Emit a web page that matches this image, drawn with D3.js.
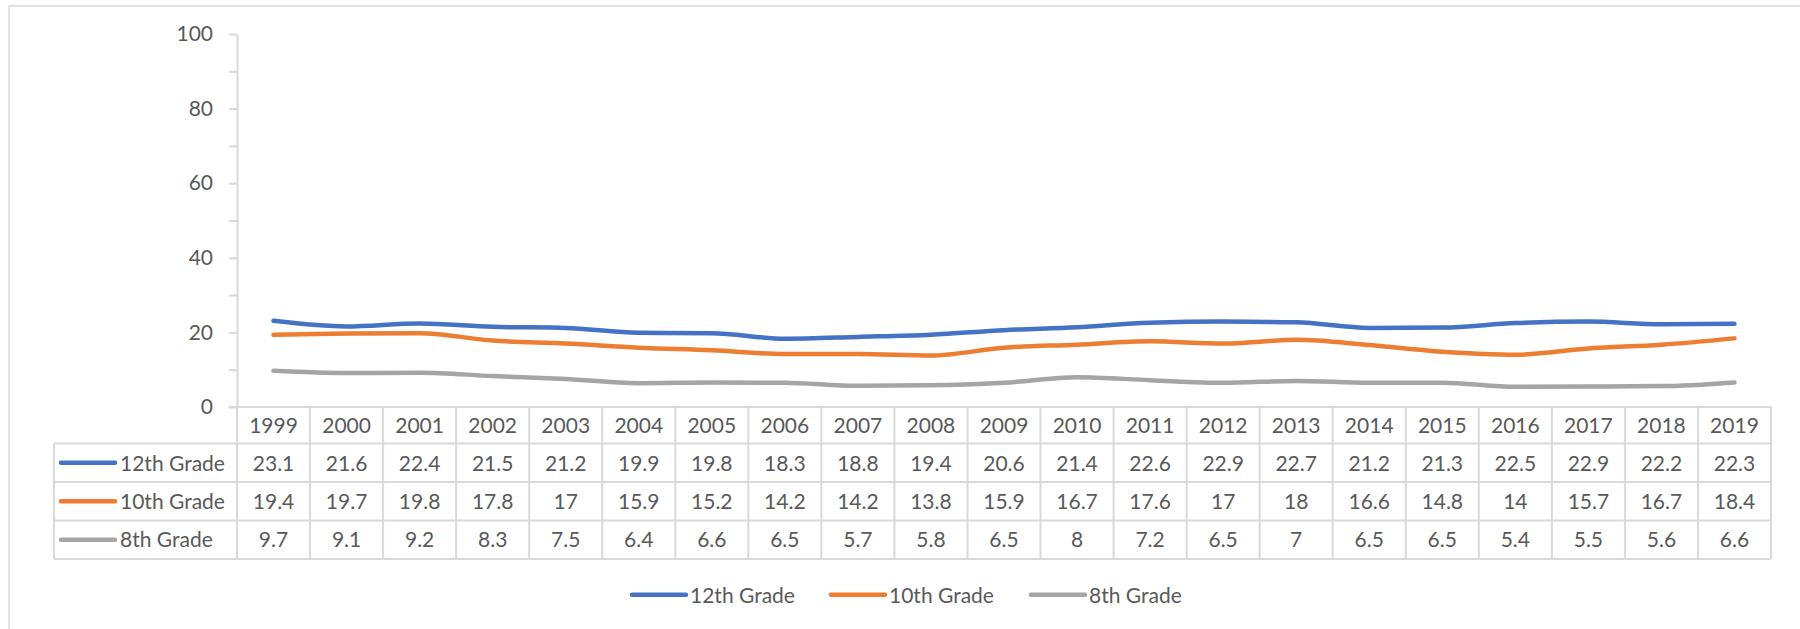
<!DOCTYPE html>
<html>
<head>
<meta charset="utf-8">
<script src="https://cdn.jsdelivr.net/npm/d3@7/dist/d3.min.js"></script>
<style>
  html, body { margin: 0; padding: 0; background: #fff; }
  svg { display: block; }
  text { font-family: Lato, "Open Sans", sans-serif; fill: #595959; }
</style>
</head>
<body>
<svg id="chart" width="1800" height="629"></svg>
<script>
const years = ["1999","2000","2001","2002","2003","2004","2005","2006","2007","2008","2009","2010","2011","2012","2013","2014","2015","2016","2017","2018","2019"];
const grade12 = [23.1,21.6,22.4,21.5,21.2,19.9,19.8,18.3,18.8,19.4,20.6,21.4,22.6,22.9,22.7,21.2,21.3,22.5,22.9,22.2,22.3];
const grade10 = [19.4,19.7,19.8,17.8,17,15.9,15.2,14.2,14.2,13.8,15.9,16.7,17.6,17,18,16.6,14.8,14,15.7,16.7,18.4];
const grade8  = [9.7,9.1,9.2,8.3,7.5,6.4,6.6,6.5,5.7,5.8,6.5,8,7.2,6.5,7,6.5,6.5,5.4,5.5,5.6,6.6];
const seriesNames = ["12th Grade","10th Grade","8th Grade"];
const seriesColors = ["#4472C4","#ED7D31","#A5A5A5"];
const yTicks = [0,10,20,30,40,50,60,70,80,90,100];

const series = [grade12, grade10, grade8].map((v,i)=>({name:seriesNames[i], color:seriesColors[i], values:v}));

const svg = d3.select("#chart");
const border = "#D9D9D9";

// outer frame
svg.append("rect").attr("x",9).attr("y",6).attr("width",1800).attr("height",700)
  .attr("fill","none").attr("stroke",border).attr("stroke-width",1.5);

const x = d3.scaleBand().domain(years).range([237,1771]).padding(0);
const y = d3.scaleLinear().domain([0,100]).range([407,34]);

// y axis
const yAxis = d3.axisLeft(y).tickValues(yTicks).tickSize(8).tickSizeOuter(0).tickPadding(16)
  .tickFormat(d => d % 20 === 0 ? d : "");
const ga = svg.append("g").attr("transform","translate(237,0)").call(yAxis);
ga.select(".domain").attr("stroke",border).attr("stroke-width",2);
ga.selectAll(".tick line").attr("stroke",border).attr("stroke-width",2);
ga.selectAll(".tick text").attr("font-size",21).attr("fill","#595959")
  .style("font-family","Lato, 'Open Sans', sans-serif");

// lines
const line = d3.line().x((d,i)=>x(years[i])+x.bandwidth()/2).y(d=>y(d)).curve(d3.curveMonotoneX);
svg.append("g").selectAll("path").data(series).join("path")
  .attr("d", d=>line(d.values)).attr("fill","none").attr("stroke",d=>d.color)
  .attr("stroke-width",4.5).attr("stroke-linecap","round").attr("stroke-linejoin","round");

// data table
const rowTops = [407, 443.5, 482, 520.5, 559];
const tbl = svg.append("g");
const lineAttrs = s => s.attr("stroke",border).attr("stroke-width",2);
lineAttrs(tbl.append("line").attr("x1",229).attr("x2",1771).attr("y1",rowTops[0]).attr("y2",rowTops[0]));
for (let r=1;r<rowTops.length;r++){
  lineAttrs(tbl.append("line").attr("x1",54).attr("x2",1771).attr("y1",rowTops[r]).attr("y2",rowTops[r]));
}
const xEdges = years.map(d=>x(d)).concat([x.range()[1]]);
xEdges.forEach(xe=>{
  lineAttrs(tbl.append("line").attr("x1",xe).attr("x2",xe).attr("y1",rowTops[0]).attr("y2",rowTops[4]));
});
lineAttrs(tbl.append("line").attr("x1",54).attr("x2",54).attr("y1",rowTops[1]).attr("y2",rowTops[4]));

// header
tbl.append("g").selectAll("text").data(years).join("text")
  .attr("x",d=>x(d)+x.bandwidth()/2).attr("y",433).attr("text-anchor","middle")
  .attr("font-size",21).text(d=>d);

// rows
const baselines = [471, 508.5, 547];
series.forEach((s,i)=>{
  const cy = (rowTops[i+1]+rowTops[i+2])/2;
  tbl.append("line").attr("x1",61).attr("x2",115).attr("y1",cy).attr("y2",cy)
    .attr("stroke",s.color).attr("stroke-width",4.5).attr("stroke-linecap","round");
  tbl.append("text").attr("x",120).attr("y",baselines[i]).attr("font-size",21).text(s.name);
  tbl.append("g").selectAll("text").data(s.values).join("text")
    .attr("x",(d,j)=>x(years[j])+x.bandwidth()/2).attr("y",baselines[i])
    .attr("text-anchor","middle").attr("font-size",21).text(d=>d);
});

// bottom legend
const legX = [631, 830, 1030];
const leg = svg.append("g");
series.forEach((s,i)=>{
  leg.append("line").attr("x1",legX[i]+1).attr("x2",legX[i]+55).attr("y1",594.7).attr("y2",594.7)
    .attr("stroke",s.color).attr("stroke-width",4.5).attr("stroke-linecap","round");
  leg.append("text").attr("x",legX[i]+59).attr("y",602.5).attr("font-size",21).text(s.name);
});
</script>
</body>
</html>
